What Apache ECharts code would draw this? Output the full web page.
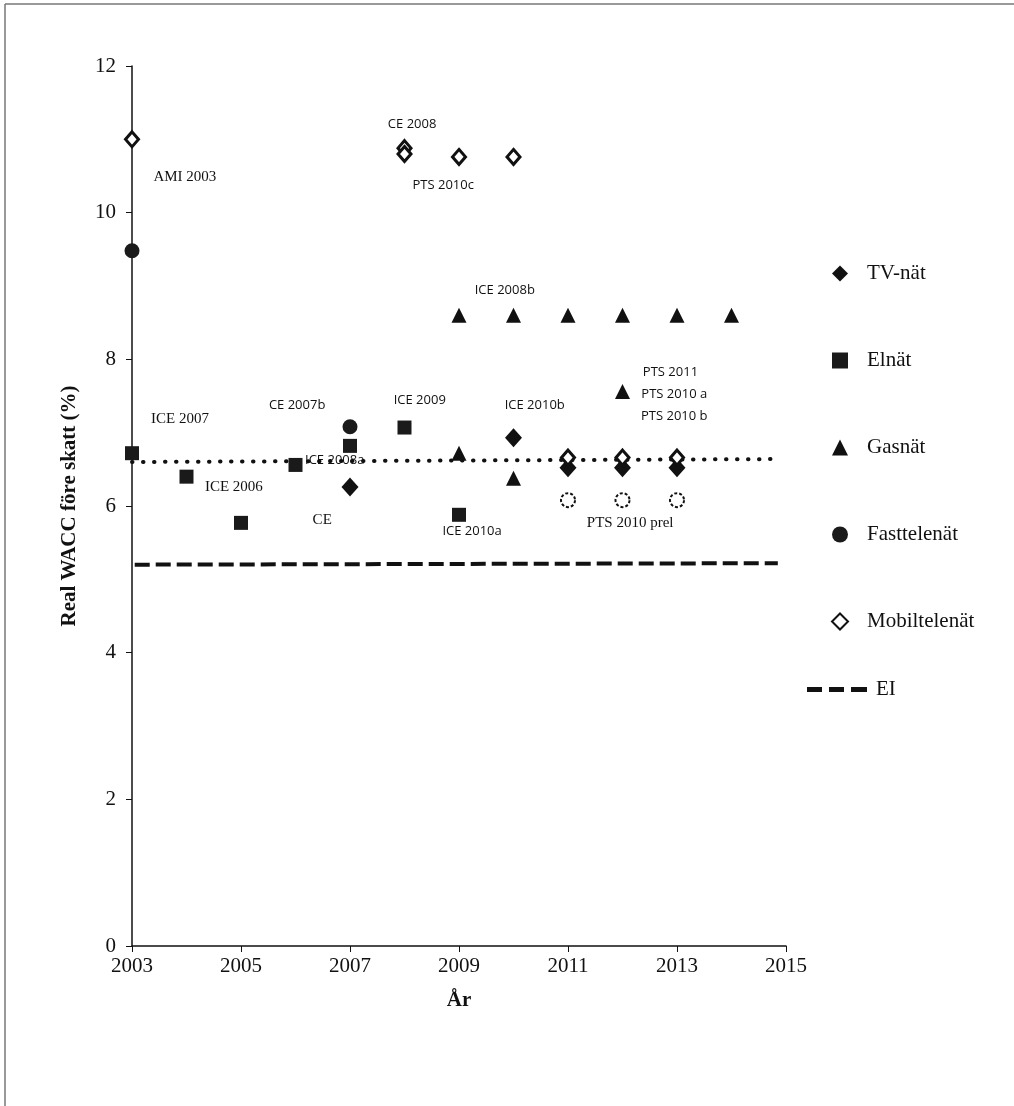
<!DOCTYPE html>
<html>
<head>
<meta charset="utf-8">
<script src="https://cdn.jsdelivr.net/npm/echarts@6/dist/echarts.min.js"></script>
<style>
html,body{margin:0;padding:0;background:#fff;}
#chart{width:1014px;height:1106px;}
</style>
</head>
<body>
<div id="chart"></div>
<script>
// ---- data ----
const xTicks = [2003, 2005, 2007, 2009, 2011, 2013, 2015];
const tvNat = [[2007, 6.26], [2010, 6.93], [2011, 6.52], [2012, 6.52], [2013, 6.52]];
const elNat = [[2003, 6.72], [2004, 6.40], [2005, 5.77], [2006, 6.56], [2007, 6.82], [2008, 7.07], [2009, 5.88]];
const gasNat = [[2009, 8.60], [2010, 8.60], [2011, 8.60], [2012, 8.60], [2013, 8.60], [2014, 8.60], [2009, 6.72], [2010, 6.38], [2012, 7.56]];
const fastNat = [[2003, 9.48], [2007, 7.08]];
const mobilNat = [[2003, 11.0], [2008, 10.88], [2008, 10.80], [2009, 10.76], [2010, 10.76], [2011, 6.66], [2012, 6.66], [2013, 6.66]];
const ptsPrel = [[2011, 6.08], [2012, 6.08], [2013, 6.08]];
const dottedRef = [[2003, 6.60], [2014.85, 6.64]];
const eiLine = [[2003.05, 5.20], [2014.85, 5.22]];
// annotation texts with their anchor (data coords)
const serifNotes = [
  ['AMI 2003', 2003.97, 10.48],
  ['ICE 2007', 2003.88, 7.18],
  ['ICE 2006', 2004.87, 6.26],
  ['CE', 2006.49, 5.81],
  ['PTS 2010 prel', 2012.14, 5.77]
];
const sansNotes = [
  ['CE 2008', 2008.14, 11.21],
  ['PTS 2010c', 2008.71, 10.37],
  ['ICE 2008b', 2009.84, 8.94],
  ['CE 2007b', 2006.03, 7.37],
  ['ICE 2009', 2008.28, 7.44],
  ['ICE 2010b', 2010.39, 7.38],
  ['ICE 2008a', 2006.72, 6.62],
  ['ICE 2010a', 2009.24, 5.66],
  ['PTS 2011', 2012.88, 7.83],
  ['PTS 2010 a', 2012.95, 7.52],
  ['PTS 2010 b', 2012.95, 7.22]
];

// ---- chart ----
const chart = echarts.init(document.getElementById('chart'), null, {renderer: 'canvas'});
const ink = '#111111';
const serif = '"Liberation Serif", "DejaVu Serif", serif';
const sans = '"Open Sans", "Liberation Sans", sans-serif';

function notes(arr) {
  return arr.map(a => ({name: a[0], value: [a[1], a[2]]}));
}

const option = {
  backgroundColor: '#ffffff',
  animation: false,
  grid: {left: 132, top: 66, width: 654, height: 880, containLabel: false},
  xAxis: {
    type: 'value', min: 2003, max: 2015, interval: 2,
    name: 'År', nameLocation: 'middle', nameGap: 44,
    nameTextStyle: {fontFamily: serif, fontSize: 21, fontWeight: 'bold', color: ink},
    axisLine: {lineStyle: {color: ink, width: 1.5}},
    axisTick: {show: true, inside: false, length: 6, lineStyle: {color: ink}},
    axisLabel: {fontFamily: serif, fontSize: 21, color: ink, margin: 10, formatter: v => String(v)},
    splitLine: {show: false}
  },
  yAxis: {
    type: 'value', min: 0, max: 12, interval: 2,
    name: 'Real WACC före skatt (%)', nameLocation: 'middle', nameGap: 52, nameRotate: 90,
    nameTextStyle: {fontFamily: serif, fontSize: 21, fontWeight: 'bold', color: ink},
    axisLine: {show: true, lineStyle: {color: ink, width: 1.5}},
    axisTick: {show: true, inside: false, length: 6, lineStyle: {color: ink}},
    axisLabel: {fontFamily: serif, fontSize: 21, color: ink, margin: 16},
    splitLine: {show: false}
  },
  legend: [{
    orient: 'vertical', left: 826, top: 258, itemGap: 66, itemWidth: 16, itemHeight: 16,
    textStyle: {fontFamily: serif, fontSize: 21, color: ink, padding: [0, 0, 0, 14]},
    data: ['TV-nät', 'Elnät', 'Gasnät', 'Fasttelenät', 'Mobiltelenät']
  }, {
    orient: 'vertical', left: 802, top: 674, itemWidth: 60, itemHeight: 5,
    textStyle: {fontFamily: serif, fontSize: 21, color: ink, padding: [0, 0, 0, 4]},
    data: [{name: 'EI', icon: 'path://M0,0h15v5h-15z M22,0h15v5h-15z M44,0h16v5h-16z', itemStyle: {color: ink}}]
  }],
  graphic: [
    {type: 'line', shape: {x1: 5, y1: 4, x2: 1014, y2: 4}, style: {stroke: '#777', lineWidth: 1.5}},
    {type: 'line', shape: {x1: 5, y1: 4, x2: 5, y2: 1106}, style: {stroke: '#777', lineWidth: 1.5}}
  ],
  series: [
    {
      name: 'EI', type: 'line', data: eiLine, showSymbol: false, symbol: 'none',
      lineStyle: {color: ink, width: 4, type: [15, 6]}, itemStyle: {color: ink}, z: 1
    },
    {
      name: 'ref', type: 'line', data: dottedRef, showSymbol: false, symbol: 'none',
      lineStyle: {color: ink, width: 4, type: [0.5, 10.5], cap: 'round'}, z: 1
    },
    {
      name: 'TV-nät', type: 'scatter', data: tvNat, symbol: 'diamond', symbolSize: [17, 19],
      itemStyle: {color: ink, opacity: 1}, z: 5
    },
    {
      name: 'Elnät', type: 'scatter', data: elNat, symbol: 'rect', symbolSize: 14,
      itemStyle: {color: '#1a1a1a', opacity: 1}, z: 4
    },
    {
      name: 'Gasnät', type: 'scatter', data: gasNat, symbol: 'triangle', symbolSize: [15, 15],
      itemStyle: {color: ink, opacity: 1}, z: 4
    },
    {
      name: 'Fasttelenät', type: 'scatter', data: fastNat, symbol: 'circle', symbolSize: 15,
      itemStyle: {color: '#1a1a1a', opacity: 1}, z: 4
    },
    {
      name: 'Mobiltelenät', type: 'scatter', data: mobilNat, symbol: 'diamond', symbolSize: [13, 15],
      itemStyle: {color: '#ffffff', borderColor: ink, borderWidth: 3, opacity: 1}, z: 6
    },
    {
      name: 'PTS 2010 prel', type: 'scatter', data: ptsPrel, symbol: 'circle', symbolSize: 14,
      itemStyle: {color: '#ffffff', borderColor: ink, borderWidth: 2, borderType: [3, 2], opacity: 1}, z: 4
    },
    {
      name: 'notesSerif', type: 'scatter', data: notes(serifNotes), symbolSize: 0, silent: true,
      itemStyle: {opacity: 1},
      label: {show: true, position: 'inside', formatter: '{b}', fontFamily: serif, fontSize: 15, color: ink}, z: 7
    },
    {
      name: 'notesSans', type: 'scatter', data: notes(sansNotes), symbolSize: 0, silent: true,
      itemStyle: {opacity: 1},
      label: {show: true, position: 'inside', formatter: '{b}', fontFamily: sans, fontSize: 13, color: ink}, z: 7
    }
  ]
};
chart.setOption(option);
</script>
</body>
</html>
